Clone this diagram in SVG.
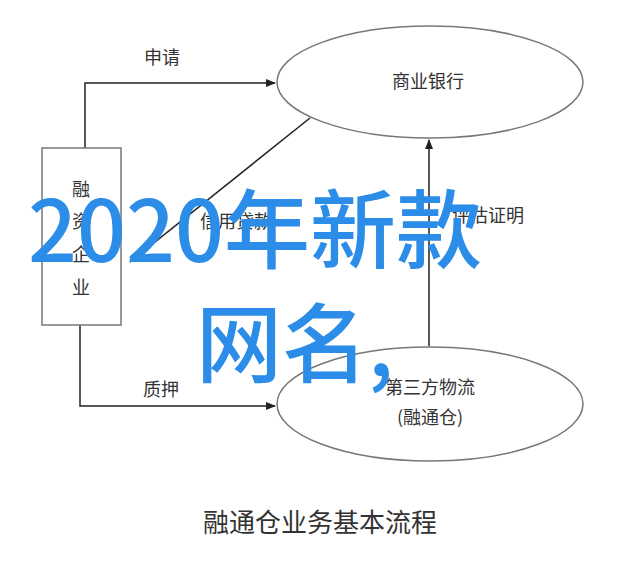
<svg xmlns="http://www.w3.org/2000/svg" width="640" height="568" viewBox="0 0 640 568">
<defs>
<marker id="ah" markerWidth="10" markerHeight="8" refX="9" refY="4" orient="auto" markerUnits="userSpaceOnUse"><path d="M0,0 L10,4 L0,8 Z" fill="#222"/></marker>
<style>
.n{fill:#fff;stroke:#777;stroke-width:1.5}
.c{fill:none;stroke:#222;stroke-width:1.5}
.t{font-family:"Noto Sans CJK SC","Liberation Sans",sans-serif;font-size:18px;fill:#333;text-anchor:middle}
.b{font-family:"Noto Sans CJK SC","Liberation Sans",sans-serif;font-size:86px;font-weight:500;fill:#2b8de8}
</style>
</defs>
<rect width="640" height="568" fill="#fff"/>
<g id="connectors">
<path class="c" d="M85,148 V83 H275" marker-end="url(#ah)"/>
<path class="c" d="M80,325 V406 H275" marker-end="url(#ah)"/>
<path class="c" d="M310,118 L130,262" marker-end="url(#ah)"/>
<path class="c" d="M429,346 V140" marker-end="url(#ah)"/>
<text class="t" x="162" y="64">申请</text>
<text class="t" x="236" y="228">信用贷款</text>
<text class="t" x="488" y="222">评估证明</text>
<text class="t" x="161" y="396">质押</text>
</g>
<g id="bank"><ellipse class="n" cx="430" cy="82" rx="153" ry="56"/><text class="t" x="428" y="88">商业银行</text></g>
<g id="enterprise"><rect class="n" x="42" y="148" width="79" height="177"/>
<text class="t" x="81" y="196">融</text><text class="t" x="81" y="228">资</text><text class="t" x="81" y="261">企</text><text class="t" x="81" y="294">业</text></g>
<g id="logistics"><ellipse class="n" cx="430" cy="404" rx="153" ry="57"/><text class="t" x="430" y="394">第三方物流</text><text class="t" x="430" y="424">(融通仓)</text></g>
<text class="t" x="320" y="532" style="font-size:26px">融通仓业务基本流程</text>
<text class="b" x="28" y="262">2020年新款</text>
<text class="b" x="196" y="376">网名,</text>
</svg>
